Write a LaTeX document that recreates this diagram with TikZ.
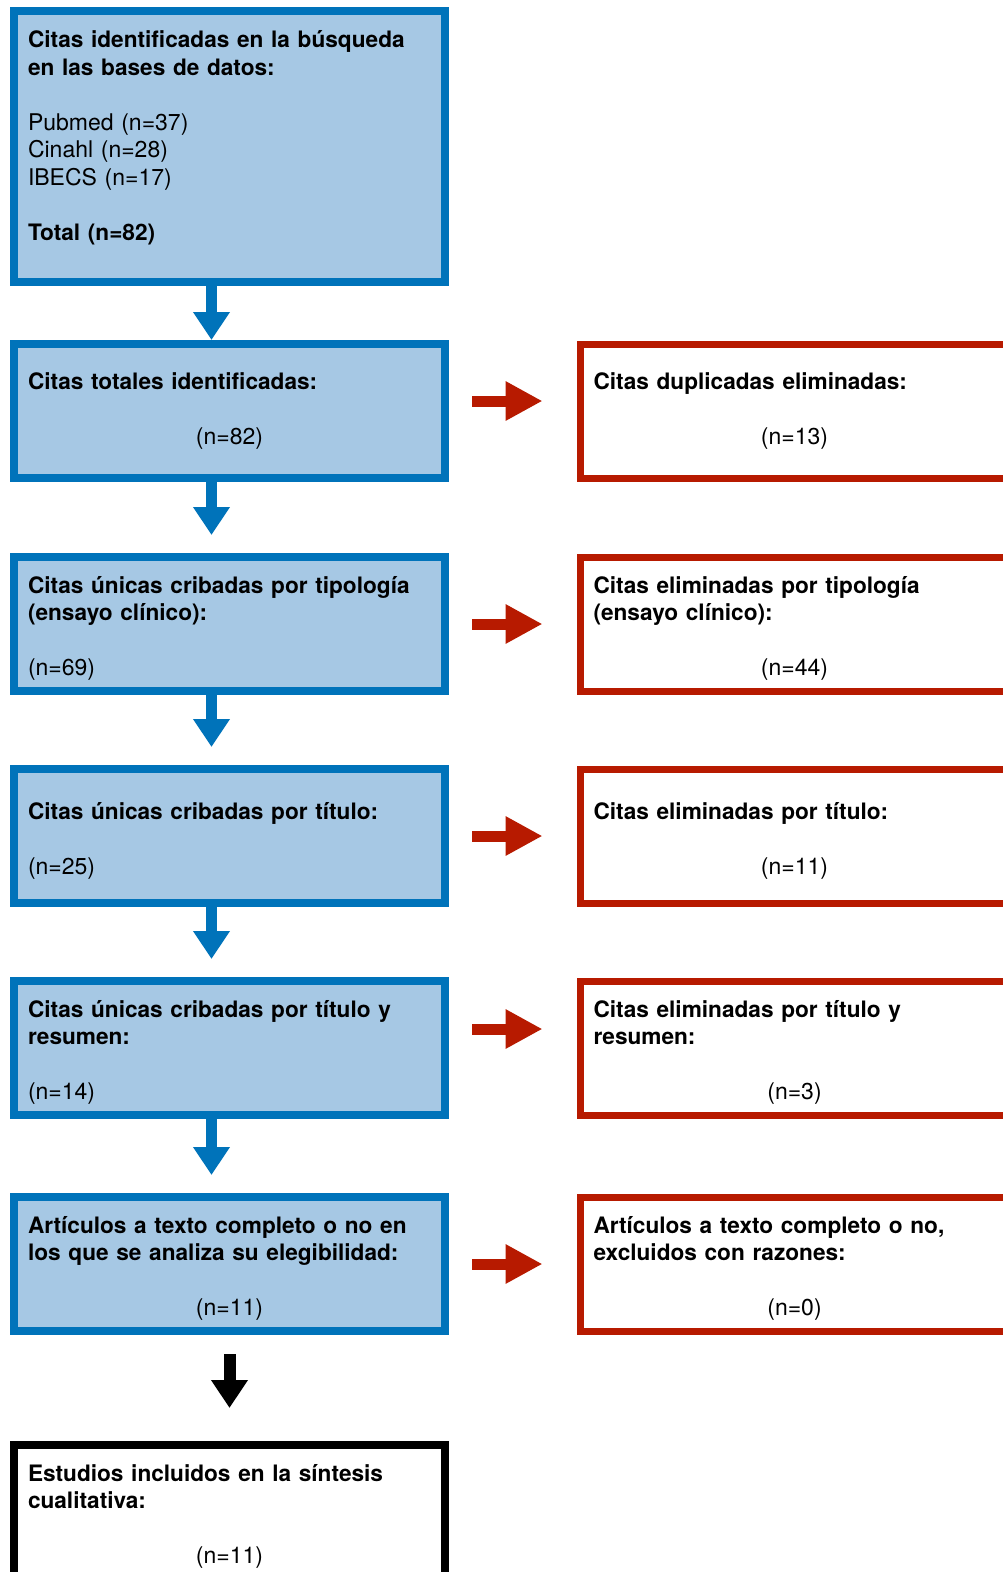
\documentclass[tikz,border=0pt]{standalone}
\usepackage{fontspec}
\setmainfont{TeX Gyre Heros}[BoldFeatures={Scale=0.984}]
\usetikzlibrary{arrows.meta}
\definecolor{boxblue}{RGB}{0,115,186}
\definecolor{fillblue}{RGB}{166,200,228}
\definecolor{outred}{RGB}{183,26,0}
\newcommand{\centred}[1]{\makebox[\linewidth]{#1}}
\tikzset{
  leftbox/.style={draw=boxblue, fill=fillblue, line width=8pt, anchor=north west, outer sep=0pt,
    minimum height=134pt, text width=403pt, inner xsep=14pt, inner ysep=0pt, align=left},
  outbox/.style={draw=outred, fill=white, line width=7pt, anchor=north west, outer sep=0pt,
    minimum height=134pt, text width=402pt, inner xsep=13pt, inner ysep=0pt, align=left},
  finalbox/.style={leftbox, draw=black, fill=white},
  lowtext/.style={text height=26pt},
  downarrow/.style={line width=11pt, boxblue, -{Triangle[length=28pt,width=35pt]}},
  sidearrow/.style={line width=11pt, outred, -{Triangle[length=37pt,width=37pt]},
    shorten <=27pt, shorten >=38pt},
}
\begin{document}
\begin{tikzpicture}[x=1pt, y=-1pt, font=\fontsize{23}{27.5}\selectfont]
\useasboundingbox (0,0) rectangle (1003,1572);
% left column
\node[leftbox, minimum height=271pt] (b1) at (14,11)
  {\textbf{Citas identificadas en la búsqueda}\\\textbf{en las bases de datos:}\\[27.5pt]
   Pubmed (n=37)\\Cinahl (n=28)\\IBECS (n=17)\\[27.5pt]\textbf{Total (n=82)}\\[-5pt]\mbox{}};
\node[leftbox] (b2) at (14,344)
  {\textbf{Citas totales identificadas:}\\[27.5pt]\centred{(n=82)}};
\node[leftbox, lowtext] (b3) at (14,557)
  {\textbf{Citas únicas cribadas por tipología}\\\textbf{(ensayo clínico):}\\[27.5pt](n=69)};
\node[leftbox, lowtext] (b4) at (14,769)
  {\textbf{Citas únicas cribadas por título:}\\[27.5pt](n=25)};
\node[leftbox, lowtext] (b5) at (14,981)
  {\textbf{Citas únicas cribadas por título y}\\\textbf{resumen:}\\[27.5pt](n=14)};
\node[leftbox, lowtext] (b6) at (14,1197)
  {\textbf{Artículos a texto completo o no en}\\\textbf{los que se analiza su elegibilidad:}\\[27.5pt]\centred{(n=11)}};
\node[finalbox, lowtext] (b7) at (14,1445)
  {\textbf{Estudios incluidos en la síntesis}\\\textbf{cualitativa:}\\[27.5pt]\centred{(n=11)}};
% right column
\node[outbox] (r2) at (580.5,344)
  {\textbf{Citas duplicadas eliminadas:}\\[27.5pt]\centred{(n=13)}};
\node[outbox, lowtext] (r3) at (580.5,557)
  {\textbf{Citas eliminadas por tipología}\\\textbf{(ensayo clínico):}\\[27.5pt]\centred{(n=44)}};
\node[outbox, lowtext] (r4) at (580.5,769)
  {\textbf{Citas eliminadas por título:}\\[27.5pt]\centred{(n=11)}};
\node[outbox, lowtext] (r5) at (580.5,981)
  {\textbf{Citas eliminadas por título y}\\\textbf{resumen:}\\[27.5pt]\centred{(n=3)}};
\node[outbox, lowtext] (r6) at (580.5,1197)
  {\textbf{Artículos a texto completo o no,}\\\textbf{excluidos con razones:}\\[27.5pt]\centred{(n=0)}};
% arrows down
\draw[downarrow, shorten >=4pt] ([xshift=-18pt]b1.south) -- ([xshift=-18pt]b2.north);
\foreach \a/\b in {b2/b3, b3/b4, b4/b5, b5/b6}
  \draw[downarrow, shorten >=22pt] ([xshift=-18pt]\a.south) -- ([xshift=-18pt]\b.north);
\draw[downarrow, black, line width=12pt, shorten <=23pt, shorten >=37pt] (b6.south) -- (b7.north);
% arrows to the right
\foreach \a/\b/\dy in {b2/r2/10, b3/r3/0, b4/r4/0, b5/r5/19, b6/r6/0}
  \draw[sidearrow] ([yshift=\dy pt]\a.east) -- ([yshift=\dy pt]\b.west);
\end{tikzpicture}
\end{document}
